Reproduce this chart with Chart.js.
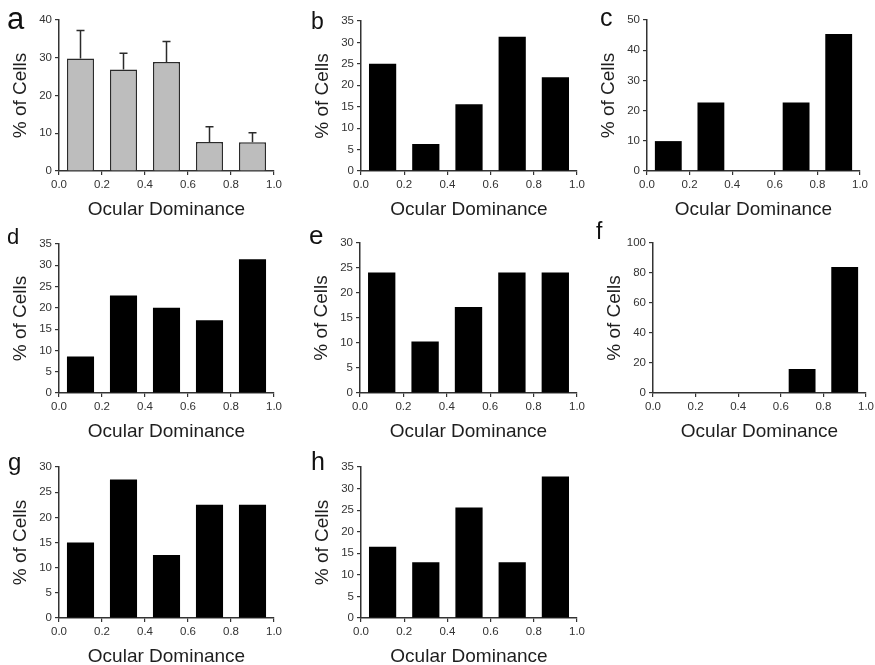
<!DOCTYPE html>
<html>
<head>
<meta charset="utf-8">
<script src="https://cdn.jsdelivr.net/npm/chart.js@4.4.0/dist/chart.umd.min.js"></script>
<style>
  body { margin: 0; background: #fff; width: 875px; height: 665px; overflow: hidden; position: relative; font-family: "Liberation Sans", Arial, sans-serif; }
  canvas { position: absolute; }
  .letter { position: absolute; line-height: 1; color: #111; }
</style>
</head>
<body>
<script>
// bin centres of the ocular dominance histogram
var binCenters = [0.1, 0.3, 0.5, 0.7, 0.9];

// % of cells per bin, one array per panel
var cellsA = [29.8, 26.9, 28.9, 7.7, 7.6];
var errTopA = [37.2, 31.2, 34.3, 11.7, 10.1];
var cellsB = [25.0, 6.3, 15.6, 31.3, 21.9];
var cellsC = [9.9, 22.7, 0, 22.7, 45.4];
var cellsD = [8.6, 22.9, 20.0, 17.1, 31.4];
var cellsE = [24.1, 10.3, 17.2, 24.1, 24.1];
var cellsF = [0, 0, 0, 16.0, 84.0];
var cellsG = [15.0, 27.5, 12.5, 22.5, 22.5];
var cellsH = [16.5, 12.9, 25.6, 12.9, 32.8];

var panelLetters = ['a', 'b', 'c', 'd', 'e', 'f', 'g', 'h'];
var yMaxes = [40, 35, 50, 35, 30, 100, 30, 35];
var ySteps = [10, 5, 10, 5, 5, 20, 5, 5];
var xTickStep = 0.2;

// plot rectangles + letter placement (page pixels)
var panels = [
  {data: cellsA, err: errTopA, l: 59,  r: 274, t: 20,  b: 171, lx: 7,   lb: 29,  ls: 31},
  {data: cellsB,               l: 361, r: 577, t: 21,  b: 171, lx: 311, lb: 29,  ls: 23},
  {data: cellsC,               l: 647, r: 860, t: 20,  b: 171, lx: 600, lb: 26,  ls: 25},
  {data: cellsD,               l: 59,  r: 274, t: 244, b: 393, lx: 7,   lb: 245, ls: 22},
  {data: cellsE,               l: 360, r: 577, t: 243, b: 393, lx: 309, lb: 244, ls: 26},
  {data: cellsF,               l: 653, r: 866, t: 243, b: 393, lx: 596, lb: 239, ls: 23},
  {data: cellsG,               l: 59,  r: 274, t: 467, b: 618, lx: 8,   lb: 470, ls: 24},
  {data: cellsH,               l: 361, r: 577, t: 467, b: 618, lx: 311, lb: 470, ls: 25}
];

var Y_BOX = 54, X_BOX = 54, PAD_T = 12, PAD_R = 14;
var FONT = '"Liberation Sans", Arial, sans-serif';

var errorBarPlugin = {
  id: 'errorBars',
  afterDatasetsDraw: function(chart, args, opts) {
    if (!opts.tops) return;
    var meta = chart.getDatasetMeta(0);
    var yScale = chart.scales.y;
    var ctx = chart.ctx;
    ctx.save();
    ctx.strokeStyle = opts.color;
    ctx.lineWidth = opts.width;
    meta.data.forEach(function(bar, i) {
      var yTop = yScale.getPixelForValue(opts.tops[i]);
      ctx.beginPath();
      ctx.moveTo(bar.x, bar.y);
      ctx.lineTo(bar.x, yTop);
      ctx.moveTo(bar.x - opts.cap, yTop);
      ctx.lineTo(bar.x + opts.cap, yTop);
      ctx.stroke();
    });
    ctx.restore();
  }
};

panels.forEach(function(p, k) {
  var cv = document.createElement('canvas');
  cv.width = (p.r - p.l) + Y_BOX + PAD_R;
  cv.height = (p.b - p.t) + PAD_T + X_BOX;
  cv.style.left = (p.l - Y_BOX) + 'px';
  cv.style.top = (p.t - PAD_T) + 'px';
  document.body.appendChild(cv);

  var lt = document.createElement('div');
  lt.className = 'letter';
  lt.textContent = panelLetters[k];
  lt.style.fontSize = p.ls + 'px';
  lt.style.left = p.lx + 'px';
  lt.style.top = (p.lb - 0.8465 * p.ls) + 'px';
  document.body.appendChild(lt);

  var gray = k === 0;
  new Chart(cv, {
    type: 'bar',
    data: {
      datasets: [{
        data: binCenters.map(function(x, i) { return {x: x, y: p.data[i]}; }),
        backgroundColor: gray ? '#bdbdbd' : '#000',
        borderColor: '#2b2b2b',
        borderWidth: gray ? 1.5 : 0,
        categoryPercentage: 1,
        barPercentage: 0.63
      }]
    },
    plugins: gray ? [errorBarPlugin] : [],
    options: {
      responsive: false,
      animation: false,
      layout: { padding: { top: PAD_T, right: PAD_R, left: 0, bottom: 0 } },
      plugins: {
        legend: { display: false },
        tooltip: { enabled: false },
        errorBars: gray ? { tops: p.err, color: '#2b2b2b', width: 1.5, cap: 4 } : {}
      },
      scales: {
        x: {
          type: 'linear',
          min: 0,
          max: 1,
          offset: false,
          afterFit: function(s) { s.height = X_BOX; },
          grid: { offset: false, drawOnChartArea: false, drawTicks: true, tickLength: 4, color: '#333', lineWidth: 1.2 },
          border: { display: true, color: '#333', width: 1.5 },
          ticks: {
            stepSize: xTickStep,
            maxRotation: 0,
            autoSkip: false,
            padding: 3,
            color: '#333',
            font: { family: FONT, size: 11.5 },
            callback: function(v) { return Number(v).toFixed(1); }
          },
          title: {
            display: true,
            text: 'Ocular Dominance',
            color: '#1e1e1e',
            font: { family: FONT, size: 19 }
          }
        },
        y: {
          min: 0,
          max: yMaxes[k],
          afterFit: function(s) { s.width = Y_BOX; },
          grid: { drawOnChartArea: false, drawTicks: true, tickLength: 4, color: '#333', lineWidth: 1.2 },
          border: { display: true, color: '#333', width: 1.5 },
          ticks: {
            stepSize: ySteps[k],
            padding: 3,
            color: '#333',
            font: { family: FONT, size: 11.5 }
          },
          title: {
            display: true,
            text: '% of Cells',
            color: '#1e1e1e',
            font: { family: FONT, size: 19 }
          }
        }
      }
    }
  });
});
</script>
</body>
</html>
